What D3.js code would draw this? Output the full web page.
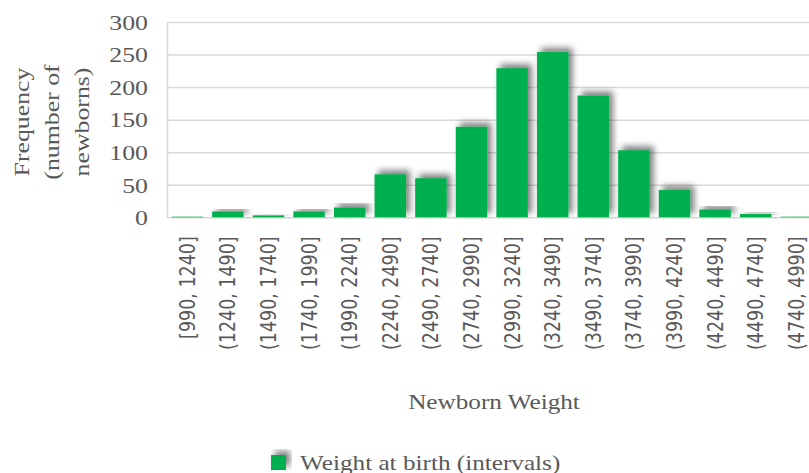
<!DOCTYPE html>
<html>
<head>
<meta charset="utf-8">
<script src="https://cdn.jsdelivr.net/npm/d3@7"></script>
<style>
  html, body { margin: 0; padding: 0; background: #ffffff; overflow: hidden; }
  svg { display: block; }
</style>
</head>
<body>
<svg id="chart" width="809" height="473"></svg>
<script>
// Birth weight intervals (grams) and number of newborns in each
const categories = [
  "[990, 1240]", "(1240, 1490]", "(1490, 1740]", "(1740, 1990]",
  "(1990, 2240]", "(2240, 2490]", "(2490, 2740]", "(2740, 2990]",
  "(2990, 3240]", "(3240, 3490]", "(3490, 3740]", "(3740, 3990]",
  "(3990, 4240]", "(4240, 4490]", "(4490, 4740]", "(4740, 4990]"
];
const frequencies = [1, 9, 3, 9, 15, 66, 60, 139, 229, 254, 187, 103, 42, 12, 5, 1];
const yTicks = [0, 50, 100, 150, 200, 250, 300];
const seriesName = "Weight at birth (intervals)";
const xTitle = "Newborn Weight";
const yTitleLines = ["Frequency", "(number of", "newborns)"];

const svg = d3.select("#chart");
const green = "#00B050";
const textGray = "#595959";
const gridGray = "#D9D9D9";
const serif = "'Liberation Serif', 'Times New Roman', serif";
const sans = "'DejaVu Sans', Verdana, sans-serif";
const serifStretch = 1.2;

const plot = { left: 167, right: 816.6, top: 22, bottom: 217.3 };

const x = d3.scaleBand()
  .domain(categories)
  .range([plot.left, plot.right])
  .paddingInner(0.225)
  .paddingOuter(0.1125);

const y = d3.scaleLinear()
  .domain([0, 300])
  .range([plot.bottom, plot.top]);

// Soft drop shadow offset towards the upper right
const defs = svg.append("defs");
const shadow = defs.append("filter")
  .attr("id", "barShadow")
  .attr("x", "-40%").attr("y", "-40%")
  .attr("width", "180%").attr("height", "180%");
shadow.append("feDropShadow")
  .attr("dx", 4).attr("dy", -4)
  .attr("stdDeviation", 3)
  .attr("flood-color", "#000")
  .attr("flood-opacity", 0.5);

// Y axis with horizontal gridlines
const yAxis = svg.append("g")
  .attr("transform", `translate(${plot.left},0)`)
  .call(d3.axisLeft(y)
    .tickValues(yTicks)
    .tickSizeInner(-(plot.right - plot.left))
    .tickSizeOuter(0)
    .tickPadding(19));
yAxis.select(".domain").attr("stroke", gridGray).attr("stroke-width", 1.5);
yAxis.selectAll(".tick line").attr("stroke", gridGray).attr("stroke-width", 1.5);
yAxis.selectAll(".tick text")
  .attr("fill", textGray)
  .attr("font-family", serif)
  .attr("font-size", 21.5)
  .attr("x", null)
  .attr("dy", "0.34em")
  .attr("transform", `translate(-19,0) scale(${serifStretch},1)`);

// Bars
svg.append("g")
  .selectAll("rect")
  .data(frequencies)
  .join("rect")
  .attr("x", (d, i) => x(categories[i]))
  .attr("y", d => y(d))
  .attr("width", x.bandwidth())
  .attr("height", d => y(0) - y(d))
  .attr("fill", green)
  .attr("filter", "url(#barShadow)");

// X axis category labels, rotated
const xAxis = svg.append("g")
  .attr("transform", `translate(0,${plot.bottom})`)
  .call(d3.axisBottom(x).tickSize(0).tickPadding(0));
xAxis.select(".domain").remove();
xAxis.selectAll(".tick text")
  .attr("fill", textGray)
  .attr("font-family", sans)
  .attr("font-size", 17.5)
  .attr("text-anchor", "end")
  .attr("y", null)
  .attr("dy", "0.36em")
  .attr("transform", "translate(0,19) scale(1.2,1) rotate(-90)");

// Axis titles
svg.append("text")
  .attr("transform", `translate(494,409) scale(${serifStretch},1)`)
  .attr("text-anchor", "middle")
  .attr("font-family", serif)
  .attr("font-size", 21)
  .attr("fill", textGray)
  .text(xTitle);

const yTitle = svg.append("g");
yTitleLines.forEach((line, i) => {
  yTitle.append("text")
    .attr("transform", `translate(${29 + i * 30},122) rotate(-90) scale(${serifStretch},1)`)
    .attr("text-anchor", "middle")
    .attr("font-family", serif)
    .attr("font-size", 21.5)
    .attr("fill", textGray)
    .text(line);
});

// Legend
const legend = svg.append("g").attr("transform", "translate(271,455)");
legend.append("rect")
  .attr("width", 15).attr("height", 15)
  .attr("fill", green)
  .attr("filter", "url(#barShadow)");
legend.append("text")
  .attr("transform", `translate(29,14.5) scale(${serifStretch},1)`)
  .attr("font-family", serif)
  .attr("font-size", 21)
  .attr("fill", textGray)
  .text(seriesName);
</script>
</body>
</html>
